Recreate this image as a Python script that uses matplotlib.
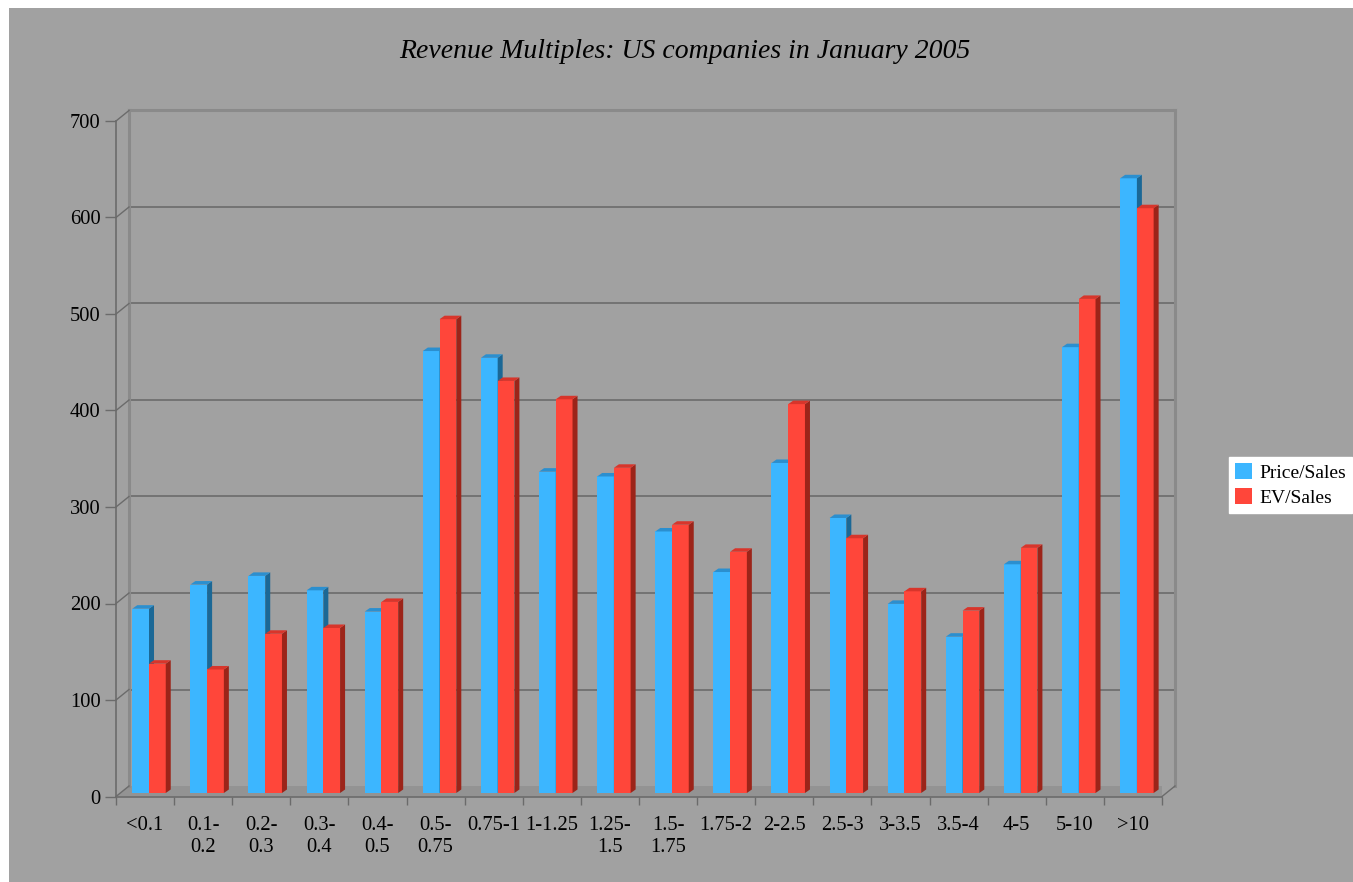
import matplotlib
matplotlib.use("Agg")
import matplotlib.pyplot as plt
import matplotlib.transforms as mtransforms
from matplotlib.patches import Polygon, Rectangle
import numpy as np

categories = ['<0.1', '0.1-\n0.2', '0.2-\n0.3', '0.3-\n0.4', '0.4-\n0.5', '0.5-\n0.75',
              '0.75-1', '1-1.25', '1.25-\n1.5', '1.5-\n1.75', '1.75-2', '2-2.5',
              '2.5-3', '3-3.5', '3.5-4', '4-5', '5-10', '>10']
price_sales = [191, 216, 225, 210, 188, 458, 451, 333, 328, 271, 229, 342, 285, 196, 162, 237, 462, 637]
ev_sales = [134, 128, 165, 171, 198, 491, 427, 408, 337, 278, 250, 403, 264, 209, 189, 254, 512, 606]
yticks = [0, 100, 200, 300, 400, 500, 600, 700]

W, H, DPI = 1353, 882, 100
fig = plt.figure(figsize=(W / DPI, H / DPI), dpi=DPI)
fig.patch.set_facecolor('white')
bg = '#a1a1a1'
fig.patches.append(Rectangle((9 / W, 0), 1, (H - 8) / H, transform=fig.transFigure,
                             facecolor=bg, edgecolor='none', zorder=-10))

plt.rcParams['font.family'] = ['Liberation Serif', 'DejaVu Serif']

# front plane of the chart box
x0, x1 = 116, 1162
y0, y1 = 796.5, 121
ax = fig.add_axes([x0 / W, (H - y0) / H, (x1 - x0) / W, (y0 - y1) / H])
ax.set_facecolor('none')
n = len(categories)
ax.set_xlim(0, n)
ax.set_ylim(0, 700)
for s in ax.spines.values():
    s.set_visible(False)

px_x = (x1 - x0) / n          # pixels per category
px_y = (y0 - y1) / 700.0      # pixels per unit

def shift(dx, dy):
    return ax.transData + mtransforms.ScaledTranslation(dx / DPI, dy / DPI, fig.dpi_scale_trans)

wall = shift(13, 10.5)
line_col = '#6b6b6b'
edge_col = '#8a8a8a'

# floor
floor = Polygon([(0, 0), (n, 0), (n + 13 / px_x, 10.5 / px_y), (13 / px_x, 10.5 / px_y)],
                closed=True, facecolor='#939393', edgecolor='none', zorder=1)
ax.add_patch(floor)

# back wall grid and edges
for v in yticks[1:-1]:
    ax.plot([0, n], [v, v], color=line_col, lw=1.2, transform=wall, zorder=1, clip_on=False)
ax.plot([0, n], [700, 700], color=edge_col, lw=2.2, transform=wall, zorder=1, clip_on=False)
ax.plot([0, 0], [0, 700], color=edge_col, lw=2.2, transform=wall, zorder=1, clip_on=False)
ax.plot([n, n], [0, 700], color=edge_col, lw=2.2, transform=wall, zorder=1, clip_on=False)

# depth lines from the front axis to the wall
for v in yticks:
    ax.plot([0, 13 / px_x], [v, v + 10.5 / px_y], color=line_col, lw=1, zorder=1, clip_on=False)
ax.plot([n, n + 13 / px_x], [0, 10.5 / px_y], color=line_col, lw=1, zorder=1, clip_on=False)

# front axes
ax.plot([0, 0], [0, 700], color=line_col, lw=1.2, zorder=2, clip_on=False)
ax.plot([0, n], [0, 0], color=line_col, lw=1.2, zorder=2, clip_on=False)

# bars with side and top faces
bar_tr = shift(0, 3.5)
bw = 0.288
ddx, ddy = 5 / px_x, 3.5 / px_y
styles = [('#3cb6ff', '#2b8fcf', '#1b6896'), ('#ff463a', '#d8352b', '#9c2419')]
xs = np.arange(n)
for k, (vals, (front, top, side)) in enumerate(zip([price_sales, ev_sales], styles)):
    lefts = xs + 0.28 + k * bw
    ax.bar(lefts, vals, width=bw, align='edge', color=front, edgecolor='none',
           transform=bar_tr, zorder=3 + k, clip_on=False,
           label=['Price/Sales', 'EV/Sales'][k])
    for l, v in zip(lefts, vals):
        r = l + bw
        ax.add_patch(Polygon([(r, 0), (r + ddx, ddy), (r + ddx, v + ddy), (r, v)],
                             closed=True, facecolor=side, edgecolor='none',
                             transform=bar_tr, zorder=3 + k, clip_on=False))
        ax.add_patch(Polygon([(l, v), (r, v), (r + ddx, v + ddy), (l + ddx, v + ddy)],
                             closed=True, facecolor=top, edgecolor='none',
                             transform=bar_tr, zorder=3 + k, clip_on=False))

# ticks and labels
ax.set_yticks(yticks)
ax.set_yticklabels([str(v) for v in yticks], fontsize=14.8)
ax.tick_params(axis='y', length=11 * 72 / DPI, width=1, color=line_col, pad=3)
ax.set_xticks(np.arange(n + 1))
ax.set_xticklabels([])
ax.tick_params(axis='x', which='major', length=8 * 72 / DPI, width=1, color=line_col)
ax.set_xticks(xs + 0.5, minor=True)
ax.set_xticklabels(categories, minor=True, fontsize=14.8, linespacing=1.25, va='top')
ax.tick_params(axis='x', which='minor', length=0, pad=14)

fig.text(684.5 / W, 1 - 51 / H, 'Revenue Multiples: US companies in January 2005',
         ha='center', va='center', fontsize=20, style='italic')

leg = ax.legend(loc='center left', bbox_to_anchor=(1229 / W, 1 - 485 / H),
                bbox_transform=fig.transFigure, borderaxespad=0, fancybox=False,
                frameon=True, framealpha=1, edgecolor='white', fontsize=14,
                handlelength=0.9, handleheight=0.9, handletextpad=0.35,
                labelspacing=0.3, borderpad=0.3)

fig.savefig('out.png', dpi=DPI, facecolor=fig.get_facecolor())
